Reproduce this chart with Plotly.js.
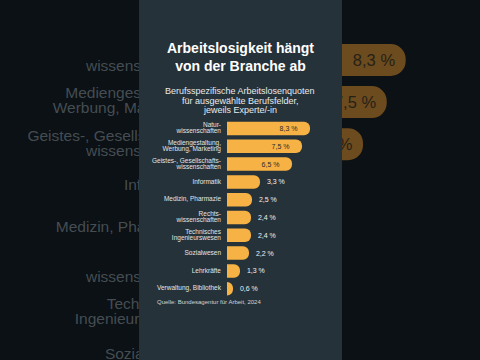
<!DOCTYPE html>
<html>
<head>
<meta charset="utf-8">
<script src="https://cdn.plot.ly/plotly-3.0.1.min.js"></script>
<style>html,body{margin:0;padding:0;background:#0b1115;}#chart{width:480px;height:360px;}</style>
</head>
<body>
<div id="chart"></div>
<script>
const categories = [
  "Natur-<br>wissenschaften",
  "Mediengestaltung,<br>Werbung, Marketing",
  "Geistes-, Gesellschafts-<br>wissenschaften",
  "Informatik",
  "Medizin, Pharmazie",
  "Rechts-<br>wissenschaften",
  "Technisches<br>Ingenieurswesen",
  "Sozialwesen",
  "Lehrkräfte",
  "Verwaltung, Bibliothek"
];
const values = [8.3, 7.5, 6.5, 3.3, 2.5, 2.4, 2.4, 2.2, 1.3, 0.6];
const titleText = "Arbeitslosigkeit hängt<br>von der Branche ab";
const subtitleLines = ["Berufsspezifische Arbeitslosenquoten", "für ausgewählte Berufsfelder,", "jeweils Experte/-in"];
const sourceText = "Quelle: Bundesagentur für Arbeit, 2024";

const W = 480, H = 360;
const FONT = "Liberation Sans, Arial, sans-serif";
const ORANGE = "#f6b244";
const NB = "\u00a0";
const positions = values.map(v => v > 5 ? "inside" : "outside");
const mainTemplates = values.map(v => v > 5 ? "%{x:.1f} %" + NB.repeat(4) : NB.repeat(2) + "%{x:.1f} %");
const bgTemplates = values.map(v => v > 5 ? "%{x:.1f} %" + NB : NB.repeat(2) + "%{x:.1f} %");

// split category labels into individual lines (for tight line spacing)
const labelLines = [];
categories.forEach((c, i) => {
  const parts = c.split("<br>");
  parts.forEach((p, j) => labelLines.push({idx: i, off: j - (parts.length - 1) / 2, text: p}));
});

const mainBar = {
  type: "bar", orientation: "h", x: values, y: categories,
  xaxis: "x", yaxis: "y",
  marker: {color: ORANGE, cornerradius: "50%"},
  texttemplate: mainTemplates, textposition: positions, insidetextanchor: "end",
  insidetextfont: {family: FONT, size: 7, color: "#2b2b2b"},
  outsidetextfont: {family: FONT, size: 7, color: "#f0f0f0"},
  cliponaxis: false, hoverinfo: "skip"
};
const MAIN_STEP = 6.3 / 17.8;
const mainLabels = {
  type: "scatter", mode: "text",
  x: labelLines.map(() => -0.6),
  y: labelLines.map(l => l.idx + l.off * MAIN_STEP),
  xaxis: "x", yaxis: "y4", text: labelLines.map(l => l.text), textposition: "middle left",
  textfont: {family: FONT, size: 6.5, color: "#e3e5e6"},
  cliponaxis: true, hoverinfo: "skip"
};
const bgBar = {
  type: "bar", orientation: "h", x: values, y: categories,
  xaxis: "x2", yaxis: "y2",
  marker: {color: "#6c4b1e", cornerradius: "50%"},
  texttemplate: bgTemplates, textposition: positions, insidetextanchor: "end",
  insidetextfont: {family: FONT, size: 16.5, color: "#262117"},
  outsidetextfont: {family: FONT, size: 16.5, color: "#454d52"},
  cliponaxis: true, hoverinfo: "skip"
};
const BG_STEP = 15 / 42.1;
const bgLabels = {
  type: "scatter", mode: "text",
  x: labelLines.map(() => -0.72),
  y: labelLines.map(l => l.idx + l.off * BG_STEP),
  xaxis: "x3", yaxis: "y3", text: labelLines.map(l => l.text), textposition: "middle left",
  textfont: {family: FONT, size: 15.5, color: "#454d52"},
  cliponaxis: true, hoverinfo: "skip"
};

const annotations = [
  {text: titleText, xref: "paper", yref: "paper", x: 0.5, y: 1 - 57.5 / H,
   xanchor: "center", yanchor: "middle", showarrow: false, align: "center",
   font: {family: FONT, size: 14, weight: 700, color: "#ffffff"}},
  ...subtitleLines.map((t, i) => ({
    text: t, xref: "paper", yref: "paper", x: 0.5, y: 1 - (90.7 + 9.8 * i) / H,
    xanchor: "center", yanchor: "middle", showarrow: false,
    font: {family: FONT, size: 9, color: "#e8eaea"}
  })),
  {text: sourceText, xref: "paper", yref: "paper", x: 155 / W, y: 1 - 302 / H,
   xanchor: "left", yanchor: "middle", showarrow: false,
   font: {family: FONT, size: 6, color: "#d0d4d6"}}
];

const layout = {
  width: W, height: H, margin: {l: 0, r: 0, t: 0, b: 0, pad: 0},
  paper_bgcolor: "#0b1115", plot_bgcolor: "rgba(0,0,0,0)",
  separators: ",.", showlegend: false, bargap: 0.24,
  font: {family: FONT},
  xaxis: {domain: [141 / W, 340 / W], range: [-8.6, 11.3], visible: false, anchor: "y", fixedrange: true},
  yaxis: {domain: [0, 1], type: "category", categoryarray: categories,
          range: [13.006, -7.219], autorange: false, anchor: "x", visible: false, fixedrange: true},
  yaxis4: {type: "linear", overlaying: "y", range: [13.006, -7.219], autorange: false,
           anchor: "x", visible: false, fixedrange: true},
  xaxis2: {domain: [342 / W, 1], range: [5.612, 11.435], visible: false, anchor: "y2", fixedrange: true},
  yaxis2: {domain: [0, 1], type: "category", categoryarray: categories, range: [7.126, -1.425],
           autorange: false, visible: false, anchor: "x2", fixedrange: true},
  xaxis3: {domain: [0, 139 / W], range: [-8.819, -2.954], visible: false, anchor: "y3", fixedrange: true},
  yaxis3: {domain: [0, 1], type: "linear", range: [7.126, -1.425],
           autorange: false, visible: false, anchor: "x3", fixedrange: true},
  shapes: [{type: "rect", xref: "paper", yref: "paper", x0: 139 / W, x1: 342 / W, y0: 0, y1: 1,
            fillcolor: "#26323a", line: {width: 0}, layer: "below"}],
  annotations: annotations
};

Plotly.newPlot("chart", [bgBar, bgLabels, mainBar, mainLabels], layout, {staticPlot: true, displayModeBar: false});
</script>
</body>
</html>
